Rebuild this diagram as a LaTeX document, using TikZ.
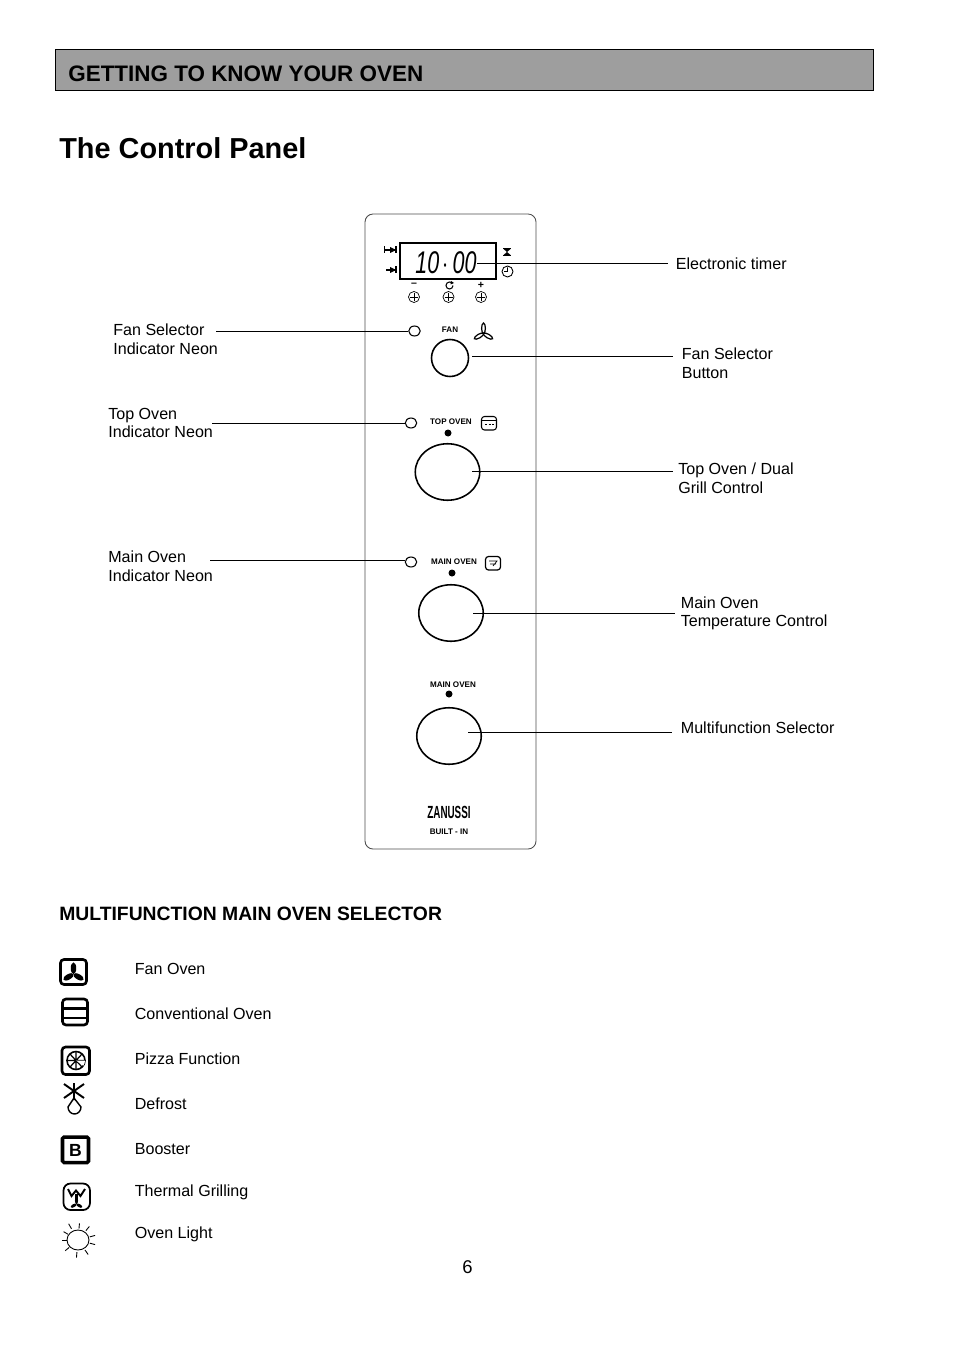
\documentclass[tikz,border=0pt]{standalone}
\usepackage{fontspec}
\setmainfont{Liberation Sans}
\usetikzlibrary{shapes.geometric}
\tikzset{
  header/.style={fill=black!38, draw=black, line width=0.4pt},
  headertext/.style={font=\fontsize{12.77}{15}\selectfont\bfseries, anchor=west, inner sep=0pt},
  titletext/.style={font=\fontsize{16.43}{20}\selectfont\bfseries, anchor=west, inner sep=0pt},
  subtitle/.style={font=\fontsize{11}{13}\selectfont\bfseries, anchor=west, inner sep=0pt},
  lbl/.style={font=\fontsize{9.15}{10.6}\selectfont, anchor=west, align=left, inner sep=0pt},
  panel/.style={draw=black!70, line width=0.5pt, rounded corners=0.16cm},
  tiny/.style={font=\fontsize{4.6}{5}\selectfont\bfseries, inner sep=0pt},
  leader/.style={draw=black, line width=0.5pt},
  neon/.style={ellipse, draw=black, line width=0.6pt, minimum width=0.23cm, minimum height=0.2cm, inner sep=0pt},
  knobbig/.style={ellipse, draw=black, line width=0.9pt, minimum width=1.29cm, minimum height=1.13cm, inner sep=0pt},
  knobsmall/.style={circle, draw=black, line width=0.9pt, minimum size=0.74cm, inner sep=0pt},
  dot/.style={circle, fill=black, minimum size=0.14cm, inner sep=0pt},
  pushbtn/.style={circle, draw=black, line width=0.4pt, minimum size=0.22cm, inner sep=0pt},
  iconbox/.style={draw=black, line width=1.5pt, rounded corners=0.07cm},
  fanblades/.pic={
    \foreach \a in {0,120,240}
      \fill[rotate=\a] (0,-5.5) ellipse (2.6 and 5.5);
  },
  fanoutline/.pic={
    \foreach \a in {0,120,240}
      \draw[line width=0.7pt, rotate=\a] (0,-5.5) ellipse (2 and 5.5);
  },
}
\begin{document}
\begin{tikzpicture}[x=0.02cm, y=-0.02cm]
\useasboundingbox (0,0) rectangle (954,1351);
% heading
\draw[header] (55,49) rectangle (873,90);
\node[headertext] (headline) at (68,74) {GETTING TO KNOW YOUR OVEN};
\node[titletext] (pagetitle) at (59,148) {The Control Panel};
% panel
\draw[panel] (365,214) rectangle (536,849);
\draw[black, line width=0.7pt] (400,243) rectangle (496,279);
\node[font=\fontsize{17}{17}\selectfont\itshape, xscale=0.72, yscale=1.05, transform shape, inner sep=0pt] (timerdigits) at (446,262.5) {10\,$\cdot$\,00};
\coordinate (timerend) at (477,263);
% timer symbols
\draw[line width=0.6pt] (385,250) -- (396,250) (384.5,246.5) -- (384.5,253.5) (396,246.5) -- (396,253.5);
\fill (390,247) -- (396,250) -- (390,253) -- cycle;
\draw[line width=0.6pt] (386,270) -- (396,270) (396,266.5) -- (396,273.5);
\fill (390,267) -- (396,270) -- (390,273) -- cycle;
\fill (507,252) -- (503.5,249) -- (510.5,249) -- (503.5,255) -- (510.5,255) -- cycle;
\draw[line width=0.5pt] (503,248.5) -- (511,248.5) (503,255.5) -- (511,255.5);
\draw[line width=0.5pt] (507.5,271.5) circle (5.5) (507.5,267.5) -- (507.5,271.5) -- (504,271.5);
\node[font=\fontsize{6}{6}\selectfont\bfseries, inner sep=0pt] (minussign) at (414,285) {–};
\draw[line width=0.6pt] (453,285.5) arc (0:300:3.5);
\fill (451,281) -- (454,283) -- (450.5,284.5) -- cycle;
\node[font=\fontsize{6}{6}\selectfont\bfseries, inner sep=0pt] (plussign) at (481,285) {+};
\foreach \x/\n in {414/one,448.5/two,481/three} {
  \node[pushbtn] (btn\n) at (\x,297) {};
  \draw[line width=0.3pt] (\x-4,297) -- (\x+4,297) (\x,293) -- (\x,301);
}
% fan section
\node[neon] (fanneon) at (414.5,331) {};
\node[tiny] (fantext) at (450,330) {FAN};
\pic[scale=0.95] at (483.5,333.5) {fanoutline};
\node[knobsmall] (fanknob) at (450,358) {};
\coordinate (fanend) at (472,356);
% top oven section
\node[neon] (topneon) at (411,423) {};
\node[tiny] (toptext) at (451,422) {TOP OVEN};
\draw[line width=0.6pt, rounded corners=0.06cm] (481.5,416.5) rectangle (496.5,430);
\draw[line width=0.4pt] (482,420.5) -- (496,420.5) (485,424) -- (487,424) (488.5,424) -- (490.5,424) (492,424) -- (494,424);
\node[dot] (topdot) at (448,433) {};
\node[knobbig] (topknob) at (447.5,472) {};
\coordinate (topend) at (472,471.5);
% main oven section
\node[neon] (mainneon) at (411,562) {};
\node[tiny] (maintext) at (454,562) {MAIN OVEN};
\draw[line width=0.7pt, rounded corners=0.06cm] (485.5,556.5) rectangle (500.5,570);
\draw[line width=0.4pt] (489,561) -- (497,561) -- (493,566) (490,564) -- (496,564);
\node[dot] (maindot) at (452,573) {};
\node[knobbig] (mainknob) at (451,613) {};
\coordinate (mainend) at (473,613);
% selector section
\node[tiny] (selecttext) at (453,685) {MAIN OVEN};
\node[dot] (selectdot) at (449,694) {};
\node[knobbig] (selectknob) at (449,736) {};
\coordinate (selectend) at (468,732);
% logo
\node[font=\fontsize{10}{10}\selectfont\bfseries, xscale=0.56, transform shape, inner sep=0pt] (logo) at (449,812) {ZANUSSI};
\node[tiny] (builtin) at (449,832) {BUILT - IN};
% labels on the left
\node[lbl] (fanneonlabel) at (113,339) {Fan Selector\\Indicator Neon};
\node[lbl] (topneonlabel) at (108,423) {Top Oven\\Indicator Neon};
\node[lbl] (mainneonlabel) at (108,566) {Main Oven\\Indicator Neon};
% labels on the right
\node[lbl] (timerlabel) at (675.5,264) {Electronic timer};
\node[lbl] (fanknoblabel) at (681.5,363.5) {Fan Selector\\Button};
\node[lbl] (topknoblabel) at (678,478) {Top Oven / Dual\\Grill Control};
\node[lbl] (mainknoblabel) at (680.5,613.5) {Main Oven\\Temperature Control};
\node[lbl] (selectlabel) at (680.5,728) {Multifunction Selector};
% leaders
\coordinate (fanstart) at (216,331);
\coordinate (topstart) at (212,423);
\coordinate (mainstart) at (210,560.5);
\draw[leader] (fanstart) -- (fanneon.west);
\draw[leader] (topstart) -- (topneon.west);
\draw[leader] (mainstart) -- (mainneon.west |- mainstart);
\coordinate (timerstop) at (668,263);
\coordinate (fanstop) at (673,356);
\coordinate (topstop) at (673,471.5);
\coordinate (mainstop) at (675,613);
\coordinate (selectstop) at (672,732);
\draw[leader] (timerend) -- (timerstop);
\draw[leader] (fanend) -- (fanstop);
\draw[leader] (topend) -- (topstop);
\draw[leader] (mainend) -- (mainstop);
\draw[leader] (selectend) -- (selectstop);
% selector key
\node[subtitle] (keytitle) at (59,913.5) {MULTIFUNCTION MAIN OVEN SELECTOR};
\node[lbl] (keyfan) at (134.5,969) {Fan Oven};
\node[lbl] (keyconv) at (134.5,1014) {Conventional Oven};
\node[lbl] (keypizza) at (134.5,1059) {Pizza Function};
\node[lbl] (keydefrost) at (134.5,1104) {Defrost};
\node[lbl] (keybooster) at (134.5,1149) {Booster};
\node[lbl] (keythermal) at (134.5,1192) {Thermal Grilling};
\node[lbl] (keylight) at (134.5,1234) {Oven Light};
% key icons
\draw[iconbox] (60.5,959.5) rectangle (86.5,984.5);
\pic[scale=1.05] at (73.5,974) {fanblades};
\draw[iconbox] (62.5,999) rectangle (87.5,1025);
\draw[line width=1.2pt] (63,1008.5) -- (87,1008.5) (63,1018) -- (87,1018);
\draw[iconbox] (62,1047) rectangle (89.5,1074.5);
\draw[line width=0.9pt] (76,1060.5) circle (9);
\draw[line width=0.7pt] (67,1060.5) -- (85,1060.5) (76,1052) -- (76,1069) (70,1054) -- (82,1067) (70,1067) -- (82,1054);
\fill[white] (76,1060.5) -- (85,1060.5) arc (0:35:9) -- cycle;
\draw[line width=1.1pt] (64,1084) -- (84,1098) (84,1084) -- (64,1098) (74,1083) -- (74,1100);
\draw[line width=0.8pt] (74,1098) -- (68,1107) arc (180:0:6.5 and 7) -- cycle;
\draw[iconbox, line width=2pt, rounded corners=0.03cm] (62.5,1137) rectangle (88.5,1162.5);
\node[font=\fontsize{10}{10}\selectfont\bfseries, inner sep=0pt] (boostb) at (75.5,1150) {B};
\draw[line width=1pt, rounded corners=0.14cm] (63.5,1183.5) rectangle (90,1210);
\draw[line width=1.1pt] (68,1189) -- (71.5,1196) -- (76,1190.5) -- (80.5,1196) -- (85,1189);
\draw[line width=1.3pt] (76.5,1194) -- (76.5,1202);
\pic[scale=0.6] at (76.5,1204) {fanblades};
\draw[line width=0.5pt] (78,1240) circle (11 and 10);
\foreach \a/\r in {15/17,-15/17,-50/17,-85/16,-120/18,-150/16,180/15,140/16,95/17,55/17}
  \draw[line width=0.5pt] (78,1240) ++(\a:\r*0.72) -- ++(\a:\r*0.32);
\node[font=\fontsize{10.5}{12}\selectfont, inner sep=0pt] (pagenumber) at (467.5,1267) {6};
\end{tikzpicture}
\end{document}
